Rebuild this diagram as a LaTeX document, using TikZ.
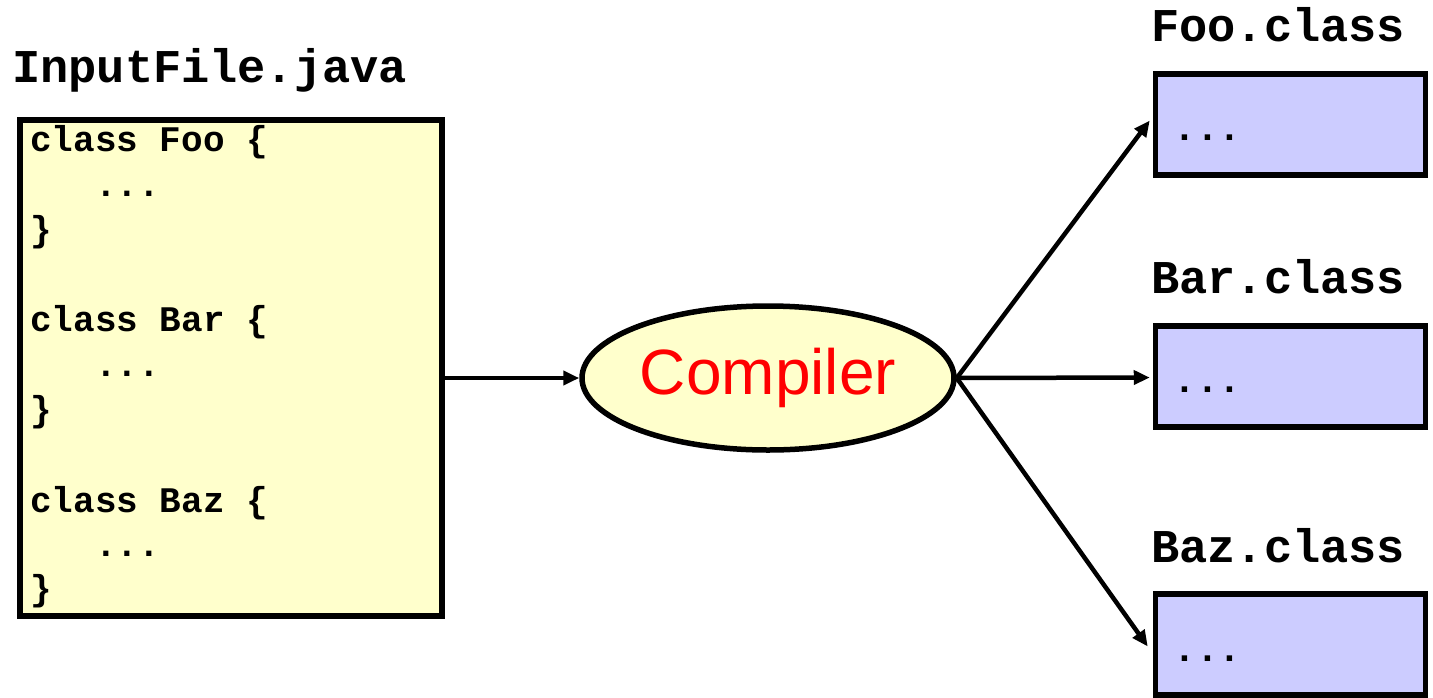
\documentclass[tikz,border=0pt]{standalone}
\usepackage{fontspec}
\setmainfont{Liberation Sans}
\newfontfamily\cour{Liberation Mono}
\usetikzlibrary{arrows.meta,shapes.geometric}
\definecolor{srcfill}{HTML}{FFFFCC}
\definecolor{outfill}{HTML}{CCCCFF}
\tikzset{
  lbl/.style={anchor=base west, inner sep=0pt, font=\cour\bfseries\fontsize{47}{47}\selectfont},
  codeline/.style={anchor=base west, inner sep=0pt, font=\cour\bfseries\fontsize{36}{36}\selectfont},
  dotsline/.style={anchor=base west, inner sep=0pt, font=\cour\bfseries\fontsize{38}{38}\selectfont},
  srcbox/.style={draw=black, line width=5.5pt, fill=srcfill},
  outbox/.style={draw=black, line width=5.5pt, fill=outfill, rectangle, minimum width=270pt, minimum height=101pt, inner sep=0pt},
  conn/.style={line width=4.5pt, -{Triangle[length=16pt,width=14pt]}},
}
\begin{document}
\begin{tikzpicture}[x=1pt,y=-1pt]
\useasboundingbox (0,0) rectangle (1433,697);
% input file
\node[lbl] (inlbl) at (12,82) {InputFile.java};
\draw[srcbox] (20,120) rectangle (442,616);
\coordinate (srcout) at (444,378);
\node[codeline] (c1) at (30,151) {class Foo \{};
\node[codeline] (c2) at (30,196) {\ \ \ ...};
\node[codeline] (c3) at (30,241) {\}};
\node[codeline] (c4) at (30,331) {class Bar \{};
\node[codeline] (c5) at (30,376) {\ \ \ ...};
\node[codeline] (c6) at (30,421) {\}};
\node[codeline] (c7) at (30,512) {class Baz \{};
\node[codeline] (c8) at (30,556) {\ \ \ ...};
\node[codeline] (c9) at (30,600) {\}};
% compiler
\node[ellipse, draw=black, line width=5.5pt, fill=srcfill, minimum width=372pt, minimum height=144pt, inner sep=0pt,
      font=\fontsize{64}{64}\selectfont, text=red] (comp) at (768,378) {Compiler};
% outputs
\node[lbl] (foolbl) at (1151,41) {Foo.class};
\node[lbl] (barlbl) at (1151,293) {Bar.class};
\node[lbl] (bazlbl) at (1151,562) {Baz.class};
\node[outbox] (foo) at (1290.5,124.5) {};
\node[outbox] (bar) at (1290.5,376.5) {};
\node[outbox] (baz) at (1290.5,644.5) {};
\node[dotsline] (foodots) at (1173,140) {...};
\node[dotsline] (bardots) at (1173,392) {...};
\node[dotsline] (bazdots) at (1173,661) {...};
% connectors
\draw[conn] (srcout) -- (comp.west);
\draw[conn] (comp.east) -- ([xshift=-3pt,yshift=4pt]foo.west);
\draw[conn] (comp.east) -- ([xshift=-3pt,yshift=-1pt]bar.west);
\draw[conn] (comp.east) -- ([xshift=-5pt,yshift=-2pt]baz.west);
\end{tikzpicture}
\end{document}
